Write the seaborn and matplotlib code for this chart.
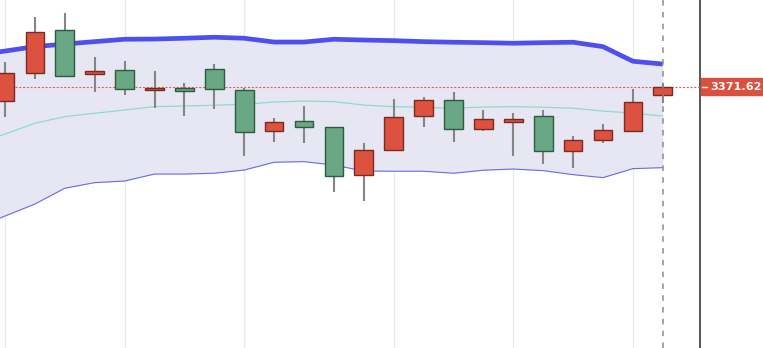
import matplotlib
matplotlib.use("Agg")
import matplotlib.pyplot as plt
import seaborn as sns
import numpy as np
import pandas as pd

# ---------------- data ----------------
candle_idx = list(range(23))
opens  = [3364.6, 3378.5, 3400.1, 3378.0, 3380.3, 3370.3, 3371.1, 3380.8, 3370.1, 3349.8,
          3354.5, 3351.8, 3327.8, 3340.1, 3357.0, 3365.1, 3350.5, 3354.1, 3357.1, 3339.6,
          3345.0, 3349.8, 3367.8]
highs  = [3384.3, 3406.5, 3408.5, 3386.5, 3384.8, 3379.5, 3373.5, 3383.3, 3371.3, 3356.3,
          3362.1, 3351.8, 3343.6, 3365.5, 3366.5, 3369.3, 3360.0, 3358.8, 3360.1, 3347.1,
          3353.1, 3370.5, 3373.5]
lows   = [3356.8, 3375.6, 3376.8, 3369.3, 3367.6, 3361.3, 3357.3, 3360.6, 3337.3, 3344.3,
          3343.8, 3319.0, 3314.6, 3340.1, 3351.8, 3344.3, 3349.6, 3337.3, 3333.0, 3331.3,
          3343.8, 3349.3, 3363.8]
closes = [3378.8, 3399.1, 3377.3, 3379.5, 3370.5, 3371.3, 3369.8, 3370.5, 3349.3, 3354.0,
          3351.6, 3327.3, 3340.3, 3356.6, 3365.3, 3350.5, 3355.6, 3355.8, 3339.6, 3345.1,
          3350.1, 3364.1, 3371.62]

band_idx = list(range(-1, 23))
upper  = [3387.6, 3389.6, 3391.8, 3393.1, 3394.3, 3395.5, 3395.6, 3396.0, 3396.5, 3396.0,
          3394.1, 3394.1, 3395.5, 3395.1, 3394.8, 3394.3, 3394.0, 3393.8, 3393.5, 3393.8,
          3394.0, 3391.8, 3384.5, 3383.1]
middle = [3343.1, 3348.1, 3353.5, 3356.8, 3358.5, 3360.1, 3361.8, 3362.1, 3362.5, 3363.0,
          3364.1, 3364.6, 3364.3, 3362.6, 3361.8, 3361.5, 3361.0, 3361.6, 3361.8, 3361.5,
          3361.0, 3359.6, 3358.5, 3357.1]
lower  = [3301.1, 3307.1, 3313.1, 3321.0, 3323.8, 3324.6, 3328.1, 3328.1, 3328.5, 3330.1,
          3334.0, 3334.3, 3332.6, 3329.6, 3329.5, 3329.5, 3328.5, 3330.0, 3330.6, 3329.8,
          3327.8, 3326.3, 3330.8, 3331.3]

grid_idx = [0, 4, 8, 13, 17, 21]
last_price = 3371.62
last_label = "3371.62"

# ---------------- style ----------------
sns.set_theme(style="white")
plt.rcParams['font.family'] = ['DejaVu Sans']
plt.rcParams['lines.scale_dashes'] = False

UP_FACE, UP_EDGE = "#dc513f", "#7a2a1e"
DN_FACE, DN_EDGE = "#6aa784", "#2f5a3f"
WICK = "#858585"

fig = plt.figure(figsize=(7.63, 3.48), dpi=100)
ax = fig.add_axes([0, 0, 700 / 763, 1])
ax.set_facecolor("white")

# grid
for g in grid_idx:
    ax.axvline(g, color="#e4ebf3", lw=0.9, zorder=0)

# bollinger band fill
ax.fill_between(band_idx, lower, upper, color="#e7e7f4", zorder=1, lw=0)

bands = pd.DataFrame({"idx": band_idx, "upper": upper, "middle": middle, "lower": lower})
sns.lineplot(data=bands, x="idx", y="middle", ax=ax, color="#8fdcc6", linewidth=0.9, zorder=2)
sns.lineplot(data=bands, x="idx", y="lower", ax=ax, color="#6a6ae8", linewidth=0.8, zorder=2)
sns.lineplot(data=bands, x="idx", y="upper", ax=ax, color="#4f4ff0", linewidth=3.4, zorder=2,
             solid_capstyle="butt")

# last price dotted line
ax.axhline(last_price, color="#e0604f", lw=0.8, ls=(0, (1.5, 1.2)), zorder=3)

# candles
o = np.array(opens); c = np.array(closes)
up = c >= o
face = [UP_FACE if u else DN_FACE for u in up]
edge = [UP_EDGE if u else DN_EDGE for u in up]
ax.vlines(candle_idx, lows, highs, color=WICK, lw=1.5, zorder=4)
ax.bar(candle_idx, np.abs(c - o), bottom=np.minimum(o, c), width=0.625,
       color=face, edgecolor=edge, linewidth=1.0, zorder=5)

# crosshair dashed line at last candle
ax.axvline(candle_idx[-1], color="#8c8c8c", lw=1.1, ls=(0, (4, 4.5)), zorder=6)

ax.set_xlim(-5 / 29.9, 695 / 29.9)
ax.set_ylim(3241.12, 3415.12)
ax.set_xticks([]); ax.set_yticks([])
ax.set_xlabel(""); ax.set_ylabel("")
for s in ["top", "bottom", "left"]:
    ax.spines[s].set_visible(False)
ax.spines["right"].set_visible(True)
ax.spines["right"].set_color("#3a3a3a")
ax.spines["right"].set_linewidth(1.2)

# price label on the right
fy = 1 - 86.5 / 348
fig.patches.append(plt.Rectangle((700.5 / 763, 1 - 95.5 / 348), 63 / 763, 17 / 348,
                                 transform=fig.transFigure, color="#d9503f", zorder=10))
fig.lines.append(plt.Line2D([702 / 763, 707 / 763], [fy, fy], transform=fig.transFigure,
                            color="white", lw=1.0, zorder=11))
fig.text(710 / 763, fy, last_label, color="white", fontsize=8.1, fontweight="bold",
         va="center", ha="left", zorder=12)

fig.savefig("out.png", dpi=100, facecolor="white")
